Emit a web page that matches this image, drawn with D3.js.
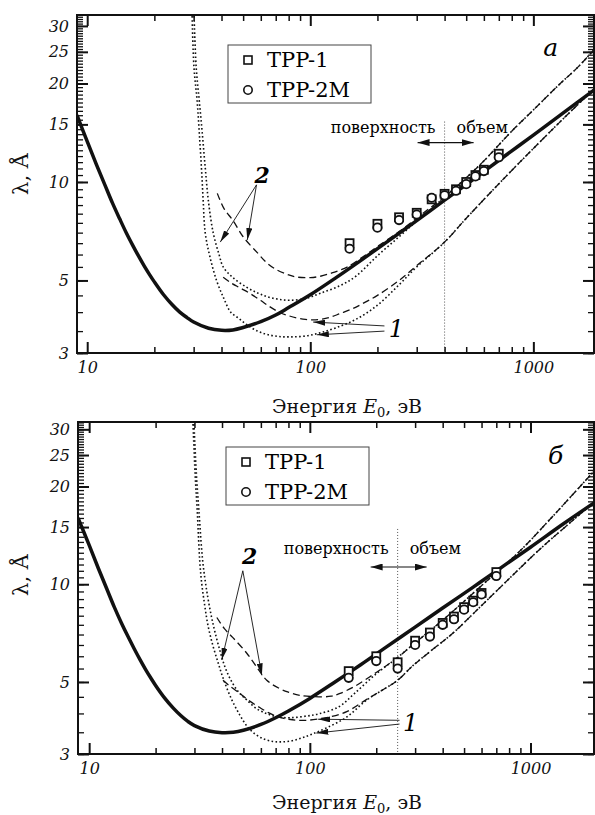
<!DOCTYPE html>
<html>
<head>
<meta charset="utf-8">
<script src="https://cdn.jsdelivr.net/npm/d3@7"></script>
<style>
  body { margin: 0; background: #fff; }
  svg { display: block; font-family: "DejaVu Serif", serif; }
</style>
</head>
<body>
<script>
// ---------------------------------------------------------------
// λ(E0) for two samples: panel "а" (top) and panel "б" (bottom).
// Curves are [E, λ] pairs.
// ---------------------------------------------------------------

// tick values
var xMajor = [10, 100, 1000];
var xMinor = [20, 30, 40, 50, 60, 70, 80, 90, 200, 300, 400, 500, 600, 700, 800, 900];
var yMajor = [3, 5, 10, 15, 20, 25, 30];
var yMinor = d3.range(3, 32.01, 0.5);

// ---- panel а ----
var a_solid = [[9,16.0],[10,13.3],[11,11.3],[12,9.8],[13,8.6],[14,7.7],[15,6.97],[16,6.4],[17,5.93],[18,5.54],[19,5.22],[20,4.95],[22,4.52],[24,4.22],[26,4.0],[28,3.85],[30,3.73],[35,3.57],[40,3.52],[45,3.53],[50,3.59],[60,3.74],[70,3.92],[80,4.13],[100,4.52],[130,5.09],[170,5.78],[220,6.55],[300,7.62],[400,8.8],[550,10.3],[750,12.05],[1000,13.9],[1400,16.5],[1870,19.1]];
var a_dot1 = [[29.5,33],[30.1,22.4],[31.1,17.7],[31.8,14.1],[32.5,11.1],[33.1,8.8],[33.8,7.0],[35.5,5.9],[38,5.0],[41,4.4],[44,4.0],[48,3.82],[52,3.66],[58,3.5],[64,3.42],[72,3.37],[81,3.36],[95,3.38],[111,3.46],[130,3.58],[160,3.8],[200,4.2],[250,4.85],[300,5.5],[400,6.55],[505,7.8],[764,10.5],[1075,13.3],[1466,16.4],[1870,19.2]];
var a_dash1 = [[40.7,5.11],[44,4.92],[48.5,4.74],[54,4.55],[60,4.34],[66,4.15],[73,3.99],[80,3.9],[87,3.84],[95,3.8],[103,3.79],[113,3.81],[123,3.86],[136,3.96],[155,4.1],[173,4.26],[200,4.5],[250,5.0],[300,5.55],[400,6.55],[505,7.8],[764,10.5],[1075,13.3],[1466,16.4],[1870,19.2]];
var a_dot2 = [[30.1,33],[30.8,22.4],[31.8,17.7],[32.8,14.1],[33.8,11.1],[34.9,8.8],[36.7,7.0],[39,6.0],[40.7,5.5],[45,5.1],[52,4.76],[58,4.58],[64,4.46],[72,4.38],[81,4.35],[95,4.4],[111,4.57],[136,4.82],[160,5.15],[200,5.95],[250,6.8],[300,7.6],[350,8.3],[400,9.0],[500,10.3],[600,11.6],[800,14.3],[1000,16.6],[1300,19.8],[1600,22.6],[1870,25.4]];
var a_dash2 = [[38.3,9.23],[41,8.3],[45,7.63],[50,6.8],[58,6.07],[64,5.65],[71,5.38],[80,5.2],[87,5.12],[100,5.1],[111,5.15],[125,5.27],[136,5.38],[147,5.5],[175,5.95],[200,6.35],[250,7.05],[300,7.75],[350,8.4],[400,9.0],[500,10.3],[600,11.6],[800,14.3],[1000,16.6],[1300,19.8],[1600,22.6],[1870,25.4]];
var a_tpp1  = [[150,6.5],[200,7.45],[250,7.8],[300,8.05],[350,8.85],[400,9.2],[450,9.5],[500,10.0],[550,10.5],[600,10.9],[700,12.2]];
var a_tpp2m = [[150,6.25],[200,7.25],[250,7.65],[300,7.95],[350,8.95],[400,9.1],[450,9.4],[500,9.85],[550,10.4],[600,10.8],[700,11.9]];

// ---- panel б ----
var b_solid = [[8.9,16.0],[10,13.2],[11,11.2],[12,9.7],[13,8.5],[14,7.6],[15,6.9],[16,6.33],[17,5.86],[18,5.47],[19,5.15],[20,4.88],[22,4.46],[24,4.16],[26,3.94],[28,3.78],[30,3.67],[35,3.53],[40,3.49],[45,3.5],[50,3.55],[60,3.7],[70,3.88],[80,4.07],[100,4.45],[130,5.0],[170,5.65],[220,6.38],[300,7.38],[400,8.45],[550,9.8],[750,11.35],[1000,13.0],[1400,15.3],[1940,17.8]];
var b_dot1 = [[29.5,32],[30.2,22],[31,16],[31.7,11.8],[32.4,10],[33.4,8.6],[34.5,7.5],[36.3,6.5],[38.5,5.7],[40.4,5.15],[44,4.45],[48.2,3.95],[52,3.65],[55.2,3.5],[61,3.35],[68,3.28],[75,3.27],[84,3.3],[93,3.37],[103,3.46],[120,3.62],[147,3.9],[181,4.4],[222,4.8],[250,5.06],[292,5.6],[350,6.2],[443,7.05],[590,8.5],[800,10.4],[1100,12.8],[1500,15.4],[1940,17.9]];
var b_dash1 = [[40.4,5.06],[44,4.82],[48.2,4.61],[53,4.38],[59.3,4.17],[66,4.0],[73,3.89],[80,3.84],[87,3.81],[97,3.81],[110,3.85],[123,3.9],[147,4.05],[181,4.42],[222,4.8],[250,5.06],[292,5.6],[350,6.2],[443,7.05],[590,8.5],[800,10.4],[1100,12.8],[1500,15.4],[1940,17.9]];
var b_dot2 = [[29.8,32],[30.6,22],[31.6,16],[32.7,11.8],[34.4,9.2],[36.5,7.5],[39.1,6.26],[41.5,5.5],[44.7,4.95],[48,4.62],[51.8,4.4],[57,4.15],[64,3.99],[72,3.9],[81,3.88],[95,3.92],[110,3.99],[136,4.2],[160,4.62],[200,5.3],[250,5.95],[300,6.6],[400,7.75],[600,9.9],[900,12.7],[1200,15.6],[1500,18.4],[1940,22.3]];
var b_dash2 = [[37.9,7.9],[41,7.3],[44.7,6.86],[51.8,6.13],[57,5.6],[63.8,5.06],[73,4.77],[80,4.65],[90,4.55],[110,4.5],[125,4.52],[136,4.6],[160,4.85],[200,5.35],[250,5.95],[300,6.6],[400,7.75],[600,9.9],[900,12.7],[1200,15.6],[1500,18.4],[1940,22.3]];
var b_tpp1  = [[150,5.4],[200,6.0],[250,5.75],[300,6.7],[350,7.1],[400,7.6],[450,7.95],[500,8.5],[550,8.9],[600,9.4],[700,10.9]];
var b_tpp2m = [[150,5.15],[200,5.8],[250,5.5],[300,6.5],[350,6.9],[400,7.5],[450,7.8],[500,8.35],[550,8.8],[600,9.3],[700,10.6]];

var legendNames = ["TPP-1", "TPP-2M"];

// annotation anchors in data units [E, λ]
var a_notes = {
  letter: "а", letterAt: [1196, 24.2],
  split: 400, splitTop: 15.3, splitText: 14.1, splitArrow: 13.2,
  two: [60.9, 10.5], twoFrom: [57.4, 9.8], twoTo: [[39.5, 6.55], [52.2, 6.65]],
  one: [243, 3.58], oneFrom: [[215, 3.63], [215, 3.5]], oneTo: [[103, 3.73], [107, 3.41]]
};
var b_notes = {
  letter: "б", letterAt: [1299, 23.5],
  split: 250, splitTop: 14.8, splitText: 12.4, splitArrow: 11.3,
  two: [53.4, 12.2], twoFrom: [49.7, 11.0], twoTo: [[39.9, 5.85], [60.6, 5.24]],
  one: [286, 3.76], oneFrom: [[255, 3.81], [255, 3.71]], oneTo: [[109, 3.84], [107, 3.48]]
};

// layout
var layoutA = {left: 77, right: 594, top: 15, bottom: 353, xDom: [9, 1870], yDom: [3, 32.4],
               legend: [228, 45], xTitle: 413, yTitle: 174};
var layoutB = {left: 78, right: 594, top: 422, bottom: 754, xDom: [8.9, 1940], yDom: [3, 31.6],
               legend: [226, 447], xTitle: 809, yTitle: 575};

var svg = d3.select("body").append("svg")
    .attr("width", 595)
    .attr("height", 815);

svg.append("rect").attr("width", 595).attr("height", 815).attr("fill", "#fff");

var defs = svg.append("defs");
defs.append("marker")
    .attr("id", "head")
    .attr("viewBox", "0 0 12 6")
    .attr("refX", 12).attr("refY", 3)
    .attr("markerWidth", 12).attr("markerHeight", 6)
    .attr("markerUnits", "userSpaceOnUse")
    .attr("orient", "auto-start-reverse")
  .append("path")
    .attr("d", "M0,0L12,3L0,6Z")
    .attr("fill", "#111");
defs.append("marker")
    .attr("id", "head2")
    .attr("viewBox", "0 0 12 7")
    .attr("refX", 12).attr("refY", 3.5)
    .attr("markerWidth", 12).attr("markerHeight", 7)
    .attr("markerUnits", "userSpaceOnUse")
    .attr("orient", "auto-start-reverse")
  .append("path")
    .attr("d", "M0,0L12,3.5L0,7Z")
    .attr("fill", "#111");

function drawPanel(cfg, curves, pts, notes, id) {
    var x = d3.scaleLog().domain(cfg.xDom).range([cfg.left, cfg.right]);
    var y = d3.scaleLog().domain(cfg.yDom).range([cfg.bottom, cfg.top]);
    var g = svg.append("g");

    defs.append("clipPath").attr("id", "clip" + id)
      .append("rect")
        .attr("x", cfg.left).attr("y", cfg.top)
        .attr("width", cfg.right - cfg.left)
        .attr("height", cfg.bottom - cfg.top);

    var line = d3.line()
        .x(function(d) { return x(d[0]); })
        .y(function(d) { return y(d[1]); })
        .curve(d3.curveCatmullRom.alpha(0.5));

    var plot = g.append("g").attr("clip-path", "url(#clip" + id + ")");

    // surface / bulk divider
    plot.append("line")
        .attr("x1", x(notes.split)).attr("x2", x(notes.split))
        .attr("y1", y(notes.splitTop)).attr("y2", cfg.bottom)
        .attr("stroke", "#555").attr("stroke-width", 1)
        .attr("stroke-dasharray", "1 2");

    // model curves
    curves.forEach(function(c) {
        plot.append("path")
            .datum(c.data)
            .attr("d", line)
            .attr("fill", "none")
            .attr("stroke", "#111")
            .attr("stroke-width", c.w)
            .attr("stroke-dasharray", c.dash);
    });

    // data points
    plot.selectAll(".sq").data(pts[0]).enter().append("rect")
        .attr("x", function(d) { return x(d[0]) - 4; })
        .attr("y", function(d) { return y(d[1]) - 4; })
        .attr("width", 8).attr("height", 8)
        .attr("fill", "#fff").attr("stroke", "#111").attr("stroke-width", 1.8);
    plot.selectAll(".ci").data(pts[1]).enter().append("circle")
        .attr("cx", function(d) { return x(d[0]); })
        .attr("cy", function(d) { return y(d[1]); })
        .attr("r", 4.2)
        .attr("fill", "#fff").attr("stroke", "#111").attr("stroke-width", 1.8);

    // surface / bulk labels
    var sx = x(notes.split);
    g.append("text").attr("x", sx - 9).attr("y", y(notes.splitText))
        .attr("text-anchor", "end").attr("font-size", 16).text("поверхность");
    g.append("text").attr("x", sx + 12).attr("y", y(notes.splitText))
        .attr("text-anchor", "start").attr("font-size", 16).text("объем");
    g.append("line")
        .attr("x1", sx - 27).attr("x2", sx + 29)
        .attr("y1", y(notes.splitArrow)).attr("y2", y(notes.splitArrow))
        .attr("stroke", "#111").attr("stroke-width", 1.2)
        .attr("marker-start", "url(#head2)").attr("marker-end", "url(#head2)");

    // curve labels with arrows
    g.append("text").attr("x", x(notes.two[0])).attr("y", y(notes.two[1]) + 8)
        .attr("text-anchor", "middle").attr("font-size", 22)
        .attr("font-weight", "bold").attr("font-style", "italic").text("2");
    notes.twoTo.forEach(function(t) {
        g.append("line")
            .attr("x1", x(notes.twoFrom[0])).attr("y1", y(notes.twoFrom[1]))
            .attr("x2", x(t[0])).attr("y2", y(t[1]))
            .attr("stroke", "#111").attr("stroke-width", 0.9)
            .attr("marker-end", "url(#head)");
    });
    g.append("text").attr("x", x(notes.one[0])).attr("y", y(notes.one[1]) + 9)
        .attr("text-anchor", "middle").attr("font-size", 24)
        .attr("font-style", "italic").text("1");
    notes.oneTo.forEach(function(t, i) {
        g.append("line")
            .attr("x1", x(notes.oneFrom[i][0])).attr("y1", y(notes.oneFrom[i][1]))
            .attr("x2", x(t[0])).attr("y2", y(t[1]))
            .attr("stroke", "#111").attr("stroke-width", 0.9)
            .attr("marker-end", "url(#head)");
    });

    // panel letter
    g.append("text").attr("x", x(notes.letterAt[0])).attr("y", y(notes.letterAt[1]))
        .attr("text-anchor", "middle").attr("font-size", 25)
        .attr("font-style", "italic").text(notes.letter);

    // legend
    var lg = g.append("g").attr("transform", "translate(" + cfg.legend[0] + "," + cfg.legend[1] + ")");
    lg.append("rect").attr("width", 143).attr("height", 58)
        .attr("fill", "#fff").attr("stroke", "#444").attr("stroke-width", 1);
    lg.append("rect").attr("x", 16).attr("y", 11).attr("width", 8).attr("height", 8)
        .attr("fill", "#fff").attr("stroke", "#111").attr("stroke-width", 1.6);
    lg.append("circle").attr("cx", 20).attr("cy", 45).attr("r", 4.2)
        .attr("fill", "#fff").attr("stroke", "#111").attr("stroke-width", 1.6);
    lg.selectAll("text").data(legendNames).enter().append("text")
        .attr("x", 39)
        .attr("y", function(d, i) { return 22 + i * 30; })
        .attr("font-size", 21)
        .text(function(d) { return d; });

    // axes (ticks point inward)
    var tickStyle = function(sel, w) {
        sel.select(".domain").remove();
        sel.selectAll("line").attr("stroke", "#111").attr("stroke-width", w);
        sel.selectAll("text").attr("fill", "#111").attr("font-family", "DejaVu Serif")
            .attr("font-style", "italic").attr("font-size", 16);
    };
    g.append("g").attr("transform", "translate(0," + cfg.bottom + ")")
        .call(d3.axisBottom(x).tickValues(xMinor).tickSize(-6).tickFormat(""))
        .call(tickStyle, 1.5);
    g.append("g").attr("transform", "translate(0," + cfg.bottom + ")")
        .call(d3.axisBottom(x).tickValues(xMajor).tickSize(-11).tickPadding(8.5).tickFormat(d3.format("d")))
        .call(tickStyle, 2);
    g.append("g").attr("transform", "translate(0," + cfg.top + ")")
        .call(d3.axisTop(x).tickValues(xMinor).tickSize(-6).tickFormat(""))
        .call(tickStyle, 1.5);
    g.append("g").attr("transform", "translate(0," + cfg.top + ")")
        .call(d3.axisTop(x).tickValues(xMajor).tickSize(-11).tickFormat(""))
        .call(tickStyle, 2);

    var yMin = yMinor.filter(function(v) { return v <= cfg.yDom[1]; });
    g.append("g").attr("transform", "translate(" + cfg.left + ",0)")
        .call(d3.axisLeft(y).tickValues(yMin).tickSize(-6).tickFormat(""))
        .call(tickStyle, 1.3);
    g.append("g").attr("transform", "translate(" + cfg.left + ",0)")
        .call(d3.axisLeft(y).tickValues(yMajor).tickSize(-11).tickPadding(8).tickFormat(d3.format("d")))
        .call(tickStyle, 2);
    g.append("g").attr("transform", "translate(" + cfg.right + ",0)")
        .call(d3.axisRight(y).tickValues(yMin).tickSize(-6).tickFormat(""))
        .call(tickStyle, 1.3);
    g.append("g").attr("transform", "translate(" + cfg.right + ",0)")
        .call(d3.axisRight(y).tickValues(yMajor).tickSize(-11).tickFormat(""))
        .call(tickStyle, 2);

    // frame
    g.append("rect")
        .attr("x", cfg.left).attr("y", cfg.top)
        .attr("width", cfg.right - cfg.left).attr("height", cfg.bottom - cfg.top)
        .attr("fill", "none").attr("stroke", "#111").attr("stroke-width", 2);

    // axis titles
    var xt = g.append("text").attr("x", 347).attr("y", cfg.xTitle)
        .attr("text-anchor", "middle").attr("font-size", 19).attr("fill", "#111");
    xt.append("tspan").text("Энергия ");
    xt.append("tspan").attr("font-style", "italic").text("E");
    xt.append("tspan").attr("font-size", 13).attr("dy", 4).text("0");
    xt.append("tspan").attr("dy", -4).text(", эВ");

    g.append("text")
        .attr("transform", "translate(28," + cfg.yTitle + ") rotate(-90)")
        .attr("text-anchor", "middle").attr("font-size", 21).attr("fill", "#111")
        .text("λ, Å");
}

var dotted = "1.6 2.4", dashed = "7 4";

drawPanel(layoutA, [
    {data: a_dot1, dash: dotted, w: 1.6},
    {data: a_dot2, dash: dotted, w: 1.6},
    {data: a_dash1, dash: dashed, w: 1.3},
    {data: a_dash2, dash: dashed, w: 1.3},
    {data: a_solid, dash: null, w: 3.5}
], [a_tpp1, a_tpp2m], a_notes, "A");

drawPanel(layoutB, [
    {data: b_dot1, dash: dotted, w: 1.6},
    {data: b_dot2, dash: dotted, w: 1.6},
    {data: b_dash1, dash: dashed, w: 1.3},
    {data: b_dash2, dash: dashed, w: 1.3},
    {data: b_solid, dash: null, w: 3.5}
], [b_tpp1, b_tpp2m], b_notes, "B");
</script>
</body>
</html>
